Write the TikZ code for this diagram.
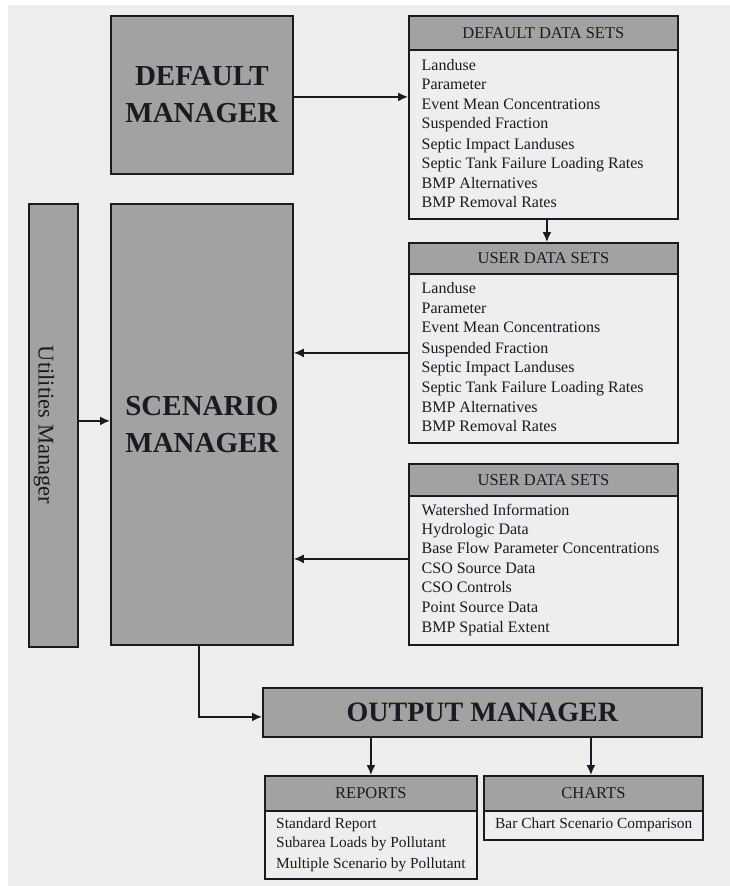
\documentclass[tikz,border=0pt]{standalone}
\usepackage{fontspec}
\setmainfont{Liberation Serif}
\usetikzlibrary{arrows.meta,calc}
\definecolor{pagebg}{HTML}{EEEEEE}
\definecolor{boxgray}{HTML}{A2A2A2}
\definecolor{ink}{HTML}{1A1A22}

\begin{document}
\begin{tikzpicture}[x=1pt,y=-1pt,
  mgr/.style={draw=ink, line width=1.8pt, fill=boxgray, anchor=north west,
    inner sep=0pt, align=center, text=ink},
  mgrfont/.style={font=\fontsize{29}{37}\selectfont\bfseries},
  headbox/.style={draw=ink, line width=1.8pt, fill=boxgray, anchor=north west,
    inner sep=0pt, text=ink, font=\fontsize{16.5}{19}\selectfont},
  bodybox/.style={draw=ink, line width=1.8pt, fill=pagebg, anchor=north west, inner sep=0pt},
  item/.style={anchor=base west, inner sep=0pt, text=ink, font=\fontsize{16}{19}\selectfont},
  smallitem/.style={item, font=\fontsize{15.4}{19}\selectfont},
  conn/.style={draw=ink, line width=1.6pt, -{Latex[length=10pt,width=9pt]}}
]
\useasboundingbox (0,0) rectangle (730,886);
\fill[white] (0,0) rectangle (730,886);
\fill[pagebg] (8,5) rectangle (730,886);

% managers
\node[mgr, mgrfont, minimum width=182pt, minimum height=158pt] (defmgr) at (110,15) {DEFAULT\\MANAGER};
\node[mgr, mgrfont, minimum width=182pt, minimum height=441pt] (scen) at (110,203) {SCENARIO\\MANAGER};
\node[mgr, minimum width=49pt, minimum height=443pt] (util) at (28,203) {};
\node[anchor=base, rotate=-90, inner sep=0pt, text=ink, font=\fontsize{22.5}{26}\selectfont]
  (util-label) at (38.5,425) {Utilities Manager};
\node[mgr, font=\fontsize{28}{34}\selectfont\bfseries, minimum width=439pt, minimum height=49pt]
  (out) at (262,687) {OUTPUT MANAGER};

% default data sets
\node[headbox, minimum width=269pt, minimum height=34pt] (dflt-head) at (408,15) {DEFAULT DATA SETS};
\node[bodybox, minimum width=269pt, minimum height=169pt] (dflt-body) at (408,49) {};
\foreach \y/\t [count=\i] in {70/Landuse, 89.5/Parameter, 109/Event Mean Concentrations,
  128.5/Suspended Fraction, 149.5/Septic Impact Landuses,
  168.5/Septic Tank Failure Loading Rates, 188/BMP Alternatives, 207/BMP Removal Rates}
  \node[item] (dflt-\i) at (421.5,\y) {\t};

% user data sets: landuse parameters
\node[headbox, minimum width=269pt, minimum height=31pt] (ud1-head) at (408,242) {USER DATA SETS};
\node[bodybox, minimum width=269pt, minimum height=169pt] (ud1-body) at (408,273) {};
\foreach \y/\t [count=\i] in {293.5/Landuse, 313.5/Parameter, 332.5/Event Mean Concentrations,
  353.5/Suspended Fraction, 372.5/Septic Impact Landuses,
  392/Septic Tank Failure Loading Rates, 412/BMP Alternatives, 431/BMP Removal Rates}
  \node[item] (ud1-\i) at (421.5,\y) {\t};

% user data sets: watershed data
\node[headbox, minimum width=269pt, minimum height=32pt] (ud2-head) at (408,463) {USER DATA SETS};
\node[bodybox, minimum width=269pt, minimum height=149pt] (ud2-body) at (408,495) {};
\foreach \y/\t [count=\i] in {515/Watershed Information, 534.5/Hydrologic Data,
  553.5/Base Flow Parameter Concentrations, 573/CSO Source Data, 592/CSO Controls,
  612.5/Point Source Data, 632/BMP Spatial Extent}
  \node[item] (ud2-\i) at (421.5,\y) {\t};

% reports
\node[headbox, minimum width=212pt, minimum height=35pt] (rep-head) at (264,775) {REPORTS};
\node[bodybox, minimum width=212pt, minimum height=68pt] (rep-body) at (264,810) {};
\foreach \y/\t [count=\i] in {828/Standard Report, 847/Subarea Loads by Pollutant,
  868.5/Multiple Scenario by Pollutant}
  \node[smallitem] (rep-\i) at (276,\y) {\t};

% charts
\node[headbox, minimum width=219pt, minimum height=35pt] (cht-head) at (483,775) {CHARTS};
\node[bodybox, minimum width=219pt, minimum height=29pt] (cht-body) at (483,810) {};
\node[smallitem] (cht-1) at (495,828.5) {Bar Chart Scenario Comparison};

% connectors
\draw[conn] ([yshift=-2pt]defmgr.east) -- ([yshift=-2pt]defmgr.east -| dflt-body.west);
\draw[conn] ([xshift=3.5pt]dflt-body.south) -- ([xshift=3.5pt]ud1-head.north);
\draw[conn] ([yshift=5.5pt]ud1-body.west) -- ([yshift=5.5pt]ud1-body.west -| scen.east);
\draw[conn] ([yshift=11.5pt]ud2-body.west) -- ([yshift=11.5pt]ud2-body.west -| scen.east);
\draw[conn] ([yshift=4.5pt]util.east) -- ([yshift=4.5pt]util.east -| scen.west);
\draw[conn] ([xshift=-3pt]scen.south) |- ([yshift=-4.5pt]out.west);
\draw[conn] (rep-head.north |- out.south) -- (rep-head.north);
\draw[conn] ([xshift=-2.5pt]cht-head.north |- out.south) -- ([xshift=-2.5pt]cht-head.north);
\end{tikzpicture}
\end{document}
